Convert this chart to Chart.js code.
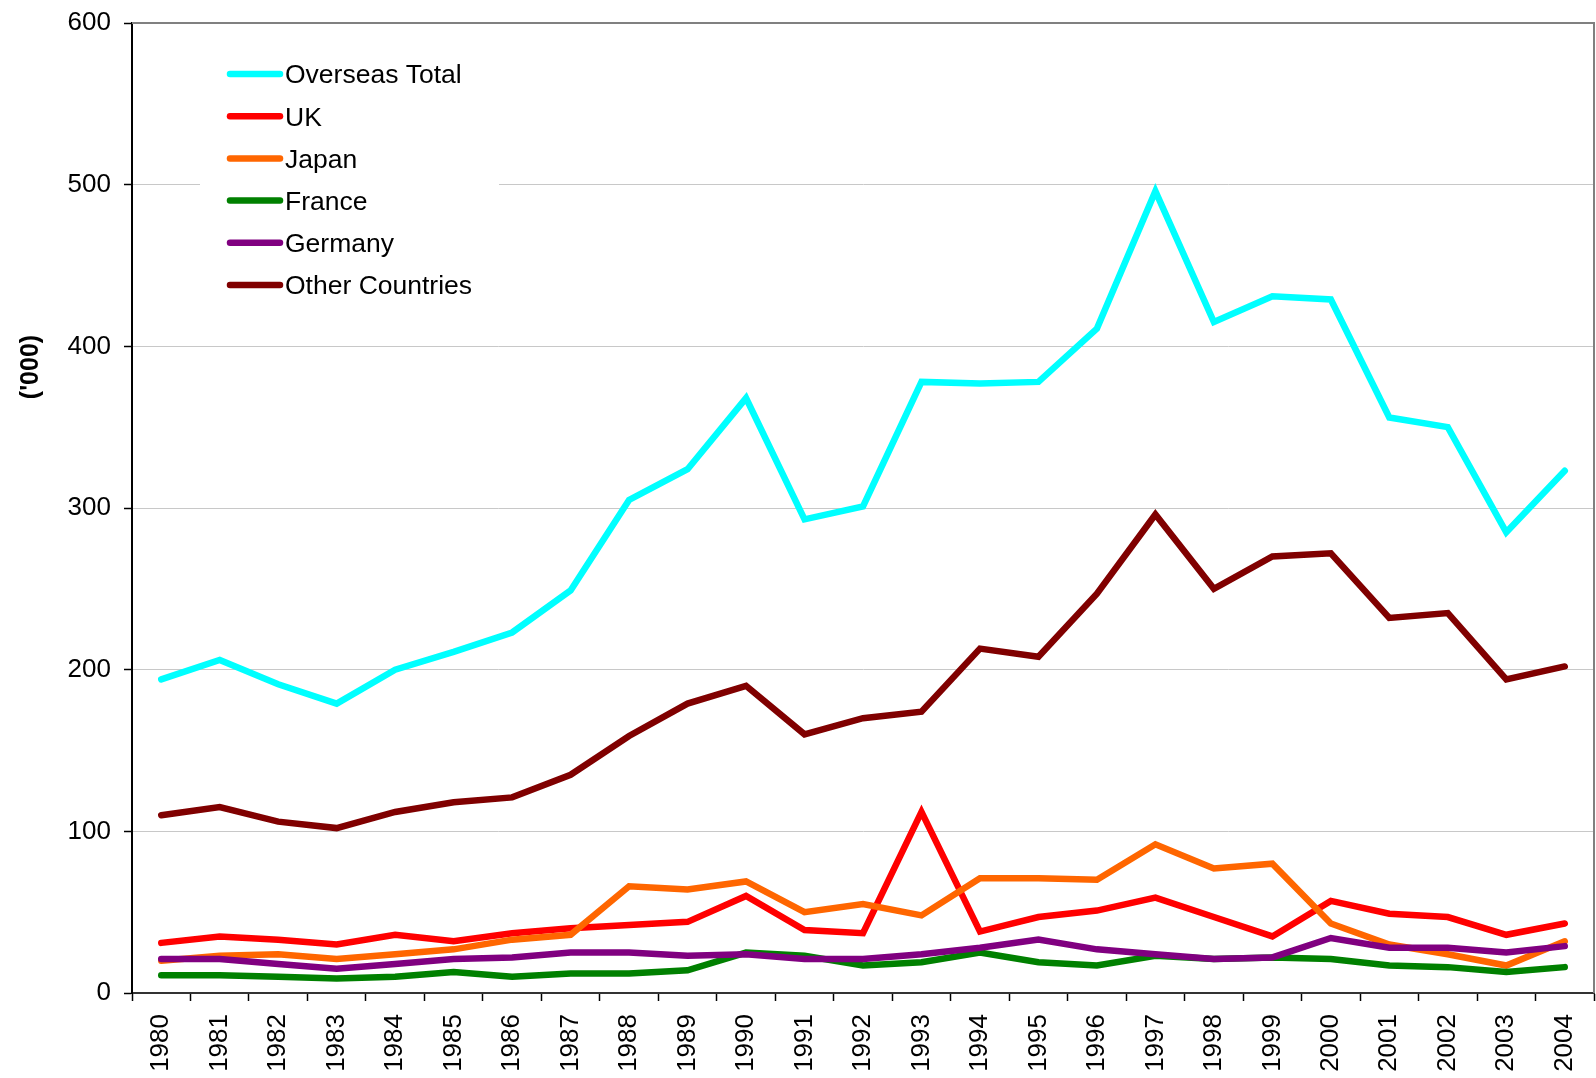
<!DOCTYPE html>
<html>
<head>
<meta charset="utf-8">
<style>
  body { margin: 0; background: #fff; }
  #wrap { width: 1596px; height: 1078px; }
</style>
<script src="https://cdn.jsdelivr.net/npm/chart.js@4.4.1/dist/chart.umd.min.js"></script>
</head>
<body>
<div id="wrap"><canvas id="visitorChart" width="1596" height="1078"></canvas></div>
<script>
// DATA ('000 visitors)
const years = ["1980", "1981", "1982", "1983", "1984", "1985", "1986", "1987", "1988", "1989",
  "1990", "1991", "1992", "1993", "1994", "1995", "1996", "1997", "1998", "1999",
  "2000", "2001", "2002", "2003", "2004"];

const overseasTotal = [194, 206, 191, 179, 200, 211, 223, 249, 305, 324, 368, 293, 301, 378, 377, 378, 411, 496, 415, 431, 429, 356, 350, 285, 323];
const uk = [31, 35, 33, 30, 36, 32, 37, 40, 42, 44, 60, 39, 37, 112, 38, 47, 51, 59, 47, 35, 57, 49, 47, 36, 43];
const japan = [20, 23, 24, 21, 24, 27, 33, 36, 66, 64, 69, 50, 55, 48, 71, 71, 70, 92, 77, 80, 43, 30, 24, 17, 32];
const france = [11, 11, 10, 9, 10, 13, 10, 12, 12, 14, 25, 23, 17, 19, 25, 19, 17, 23, 21, 22, 21, 17, 16, 13, 16];
const germany = [21, 21, 18, 15, 18, 21, 22, 25, 25, 23, 24, 21, 21, 24, 28, 33, 27, 24, 21, 22, 34, 28, 28, 25, 29];
const otherCountries = [110, 115, 106, 102, 112, 118, 121, 135, 159, 179, 190, 160, 170, 174, 213, 208, 247, 296, 250, 270, 272, 232, 235, 194, 202];

const seriesNames = ["Overseas Total", "UK", "Japan", "France", "Germany", "Other Countries"];
const seriesData = [overseasTotal, uk, japan, france, germany, otherCountries];
const colors = ["#00FFFF", "#FF0000", "#FF6600", "#008000", "#800080", "#800000"];

const FONT = '"Liberation Sans", Arial, sans-serif';

// no extra label padding around the plot, layout.padding decides it
function noScalePadding(scale) {
  scale.paddingLeft = 0;
  scale.paddingRight = 0;
  scale.paddingTop = 0;
  scale.paddingBottom = 0;
}

// LEGEND INSIDE PLOT (white box over the grid)
const insideLegend = {
  id: "inside-legend",
  beforeDatasetsDraw(chart) {
    const ctx = chart.ctx;
    ctx.save();
    ctx.fillStyle = "#fff";
    ctx.fillRect(200, 48, 299, 260);
    chart.data.datasets.forEach((ds, i) => {
      const y = 74 + i * 42.2;
      ctx.strokeStyle = ds.borderColor;
      ctx.lineWidth = 6.5;
      ctx.lineCap = "round";
      ctx.beginPath();
      ctx.moveTo(230, y);
      ctx.lineTo(280, y);
      ctx.stroke();
      ctx.fillStyle = "#000";
      ctx.font = "26.5px " + FONT;
      ctx.textAlign = "left";
      ctx.textBaseline = "middle";
      ctx.fillText(ds.label, 285, y + 2);
    });
    ctx.restore();
  },
};

// PLOT FRAME + Y TITLE
const frameAndTitle = {
  id: "frame-title",
  afterDraw(chart) {
    const { ctx, chartArea } = chart;
    ctx.save();
    ctx.strokeStyle = "#808080";
    ctx.lineWidth = 2;
    ctx.beginPath();
    ctx.moveTo(chartArea.left, chartArea.top);
    ctx.lineTo(chartArea.right, chartArea.top);
    ctx.lineTo(chartArea.right, chartArea.bottom);
    ctx.stroke();

    ctx.translate(31, 367);
    ctx.rotate(-Math.PI / 2);
    ctx.font = "bold 25px " + FONT;
    ctx.fillStyle = "#000";
    ctx.textAlign = "center";
    ctx.textBaseline = "middle";
    ctx.fillText("('000)", 0, 0);
    ctx.restore();
  },
};

new Chart(document.getElementById("visitorChart"), {
  type: "line",
  data: {
    labels: years,
    datasets: seriesNames.map((name, i) => ({
      label: name,
      data: seriesData[i],
      borderColor: colors[i],
      backgroundColor: colors[i],
      borderWidth: 6.5,
      borderCapStyle: "round",
      borderJoinStyle: "miter",
      pointRadius: 0,
      tension: 0,
      fill: false,
      order: seriesNames.length - i,
    })),
  },
  options: {
    responsive: false,
    animation: false,
    layout: { padding: { top: 23, right: 2, left: 0, bottom: 0 } },
    plugins: {
      legend: { display: false },
      tooltip: { enabled: false },
    },
    scales: {
      x: {
        offset: true,
        grid: {
          offset: true,
          drawOnChartArea: false,
          tickLength: 8,
          tickColor: "#000",
          tickWidth: 1.5,
        },
        border: { color: "#333", width: 2 },
        ticks: {
          autoSkip: false,
          minRotation: 90,
          maxRotation: 90,
          padding: 13,
          color: "#000",
          font: { size: 26, family: FONT },
        },
        afterFit: (scale) => {
          scale.height = 85;
          noScalePadding(scale);
        },
      },
      y: {
        min: 0,
        max: 600,
        grid: {
          color: "#c8c8c8",
          lineWidth: 1,
          tickLength: 8,
          tickColor: "#000",
          tickWidth: 1.5,
        },
        border: { color: "#000", width: 2 },
        ticks: {
          stepSize: 100,
          padding: 13,
          color: "#000",
          font: { size: 26, family: FONT },
        },
        afterFit: (scale) => {
          scale.width = 132;
          noScalePadding(scale);
        },
      },
    },
  },
  plugins: [insideLegend, frameAndTitle],
});
</script>
</body>
</html>
